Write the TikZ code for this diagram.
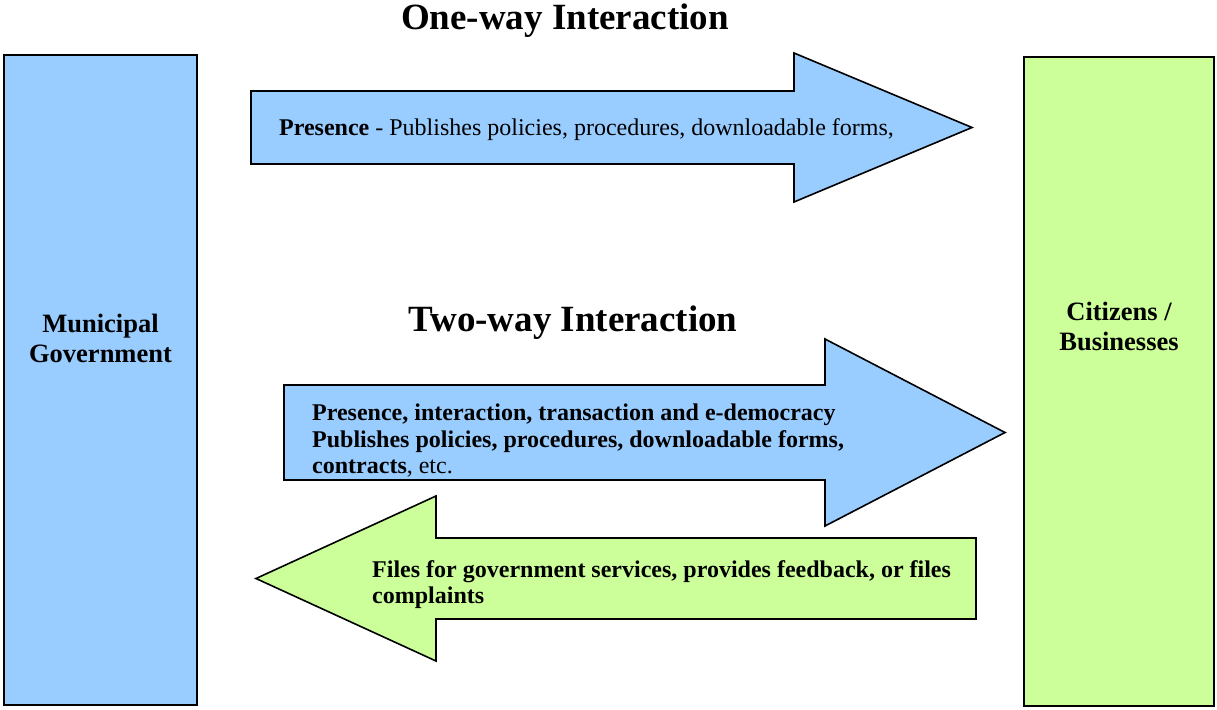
\documentclass[tikz,border=0pt]{standalone}
\usepackage{fontspec}
\setmainfont{Liberation Serif}
\definecolor{govblue}{HTML}{99CCFF}
\definecolor{citgreen}{HTML}{CCFF99}
\begin{document}
\begin{tikzpicture}[x=1pt,y=-1pt,
  actor/.style={draw=black,line width=1.6pt},
  bigarrow/.style={draw=black,line width=1.6pt,line join=miter},
  title/.style={font=\fontsize{37}{40}\selectfont\bfseries,inner sep=0pt},
  boxtext/.style={font=\fontsize{26.5}{30}\selectfont\bfseries,align=center,inner sep=0pt},
  arrowtext/.style={font=\fontsize{24}{26.5}\selectfont,align=left,anchor=west,inner sep=0pt}]
\useasboundingbox (0,0) rectangle (1217,709);
% actors
\draw[actor,fill=govblue] (4,55) rectangle (197,705);
\node[boxtext] (gov) at (100.5,338) {Municipal\\Government};
\draw[actor,fill=citgreen] (1024,57) rectangle (1214,706);
\node[boxtext] (cit) at (1119,326) {Citizens /\\Businesses};
% titles
\node[title] (t1) at (565,21) {One-way Interaction};
\node[title] (t2) at (573,323) {Two-way Interaction};
% one-way arrow
\draw[bigarrow,fill=govblue] (251,91) -- (794,91) -- (794,53) -- (972,127.5) -- (794,202) -- (794,164) -- (251,164) -- cycle;
\node[arrowtext] (a1) at (279,130) {\textbf{Presence} - Publishes policies, procedures, downloadable forms,};
% two-way blue arrow
\draw[bigarrow,fill=govblue] (284,385) -- (825,385) -- (825,339) -- (1005,432.5) -- (825,526) -- (825,480) -- (284,480) -- cycle;
\node[arrowtext] (a2) at (312,441) {\textbf{Presence, interaction, transaction and e-democracy}\\\textbf{Publishes policies, procedures, downloadable forms,}\\\textbf{contracts}, etc.};
% two-way green arrow
\draw[bigarrow,fill=citgreen] (976,538) -- (436,538) -- (436,496) -- (256,578.5) -- (436,661) -- (436,619) -- (976,619) -- cycle;
\node[arrowtext] (a3) at (372,584.5) {\textbf{Files for government services, provides feedback, or files}\\\textbf{complaints}};
\end{tikzpicture}
\end{document}
